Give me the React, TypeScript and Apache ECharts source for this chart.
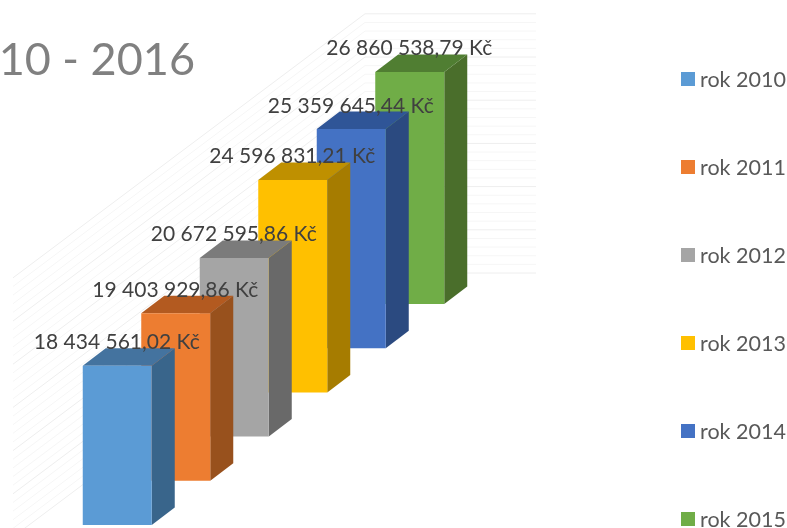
import React, { useEffect, useRef } from "react";
import * as echarts from "echarts";

const categories = ["rok 2010", "rok 2011", "rok 2012", "rok 2013", "rok 2014", "rok 2015"];
const values = [18434561.02, 19403929.86, 20672595.86, 24596831.21, 25359645.44, 26860538.79];
const frontColors = ["#5B9BD5", "#ED7D31", "#A5A5A5", "#FFC000", "#4472C4", "#70AD47"];
const topColors = ["#44739F", "#B35A20", "#7B7B7B", "#BF9000", "#2F5597", "#507E32"];
const sideColors = ["#39658B", "#98511D", "#696969", "#A67C00", "#2B4A80", "#4A6E2B"];
const minorTicks = [
  1, 2, 3, 4, 6, 7, 8, 9, 11, 12, 13, 14, 16, 17, 18, 19, 21, 22, 23, 24, 26, 27, 28, 29,
];
const majorTicks = [0, 5, 10, 15, 20, 25, 30];
const titleText = "10 - 2016";

const FONT = "Lato, 'Open Sans', sans-serif";
const BAR_W = 69;
const DEPTH_X = 23;
const DEPTH_Y = 17.5;
const ROW_RISE = 44.2;

const fmt = (v: number) => {
  const [a, b] = v.toFixed(2).split(".");
  return a.replace(/\B(?=(\d{3})+(?!\d))/g, " ") + "," + b + " Kč";
};

const wallRender = (color: string) => (_p: any, api: any) => {
  const y = api.coord([0, api.value(1)])[1];
  return {
    type: "polyline",
    silent: true,
    shape: { points: [[13, y + 12], [365, y - 252], [536, y - 252]] },
    style: { fill: "none", stroke: color, lineWidth: 1 },
  };
};

const barRender = (i: number) => (_p: any, api: any) => {
  const rise = ROW_RISE * i;
  const [cx, top0] = api.coord([api.value(0), api.value(1)]);
  const bot0 = api.coord([api.value(0), 0])[1];
  const top = top0 - rise;
  const bot = bot0 - rise;
  const x0 = cx - BAR_W / 2;
  const x1 = cx + BAR_W / 2;
  return {
    type: "group",
    children: [
      {
        type: "polygon",
        shape: { points: [[x1, top], [x1 + DEPTH_X, top - DEPTH_Y], [x1 + DEPTH_X, bot - DEPTH_Y], [x1, bot]] },
        style: { fill: sideColors[i] },
      },
      {
        type: "polygon",
        shape: { points: [[x0, top], [x0 + DEPTH_X, top - DEPTH_Y], [x1 + DEPTH_X, top - DEPTH_Y], [x1, top]] },
        style: { fill: topColors[i] },
      },
      { type: "rect", shape: { x: x0, y: top, width: BAR_W, height: bot - top }, style: { fill: frontColors[i] } },
    ],
  };
};

const labelRender = (_p: any, api: any) => {
  const idx = api.value(0);
  const v = api.value(1);
  const [cx, top] = api.coord([idx, v]);
  return {
    type: "text",
    x: cx - 0.5,
    y: top - ROW_RISE * idx - 25,
    style: {
      text: fmt(v),
      fill: "#404040",
      font: `21px ${FONT}`,
      textAlign: "center",
      textVerticalAlign: "middle",
    },
  };
};

export default function App() {
  const ref = useRef<HTMLDivElement>(null);
  useEffect(() => {
    const chart = echarts.init(ref.current!, null, { renderer: "svg" });
    chart.setOption({
      animation: false,
      backgroundColor: "#ffffff",
      title: {
        text: titleText,
        right: 592,
        top: 35,
        padding: 0,
        textStyle: { fontFamily: FONT, fontSize: 45, fontWeight: 400, color: "#808080" },
      },
      legend: {
        data: categories,
        orient: "vertical",
        left: 681,
        top: 68,
        height: 600,
        padding: 0,
        itemWidth: 14,
        itemHeight: 14,
        itemGap: 66,
        icon: "rect",
        textStyle: { fontFamily: FONT, fontSize: 21.5, lineHeight: 20, color: "#595959" },
      },
      grid: { left: 88, top: 265.8, width: 351, height: 259.2 },
      xAxis: { type: "category", data: categories, show: false },
      yAxis: { type: "value", min: 0, max: 30000000, show: false },
      series: [
        {
          type: "custom",
          name: "wall-minor",
          z: 1,
          clip: false,
          silent: true,
          renderItem: wallRender("#F6F6F6"),
          encode: { x: 0, y: 1 },
          data: minorTicks.map((t) => [categories[0], t * 1e6]),
        },
        {
          type: "custom",
          name: "wall-major",
          z: 2,
          clip: false,
          silent: true,
          renderItem: wallRender("#EEEEEE"),
          encode: { x: 0, y: 1 },
          data: majorTicks.map((t) => [categories[0], t * 1e6]),
        },
        ...categories.map((name, i) => ({
          type: "custom",
          name,
          z: 10 - i,
          clip: false,
          itemStyle: { color: frontColors[i] },
          renderItem: barRender(i),
          encode: { x: 0, y: 1 },
          data: [[name, values[i]]],
        })),
        {
          type: "custom",
          name: "labels",
          z: 20,
          clip: false,
          renderItem: labelRender,
          encode: { x: 0, y: 1 },
          data: categories.map((name, i) => [name, values[i]]),
        },
      ],
    });
    return () => chart.dispose();
  }, []);
  return (
    <div
      ref={ref}
      style={{ position: "absolute", left: 0, top: 0, width: 787, height: 528, filter: "blur(0.4px)" }}
    />
  );
}
